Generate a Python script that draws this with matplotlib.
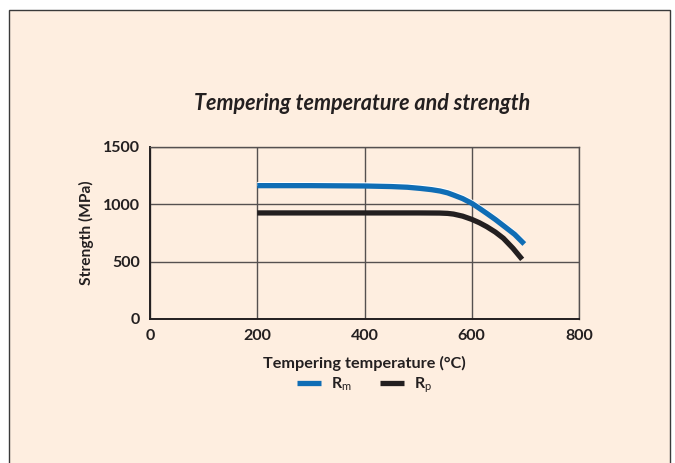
import matplotlib.pyplot as plt
from matplotlib.patches import Rectangle

# values
temp_rm = [200, 300, 400, 450, 480, 504, 525, 541, 555, 566, 583, 600, 614, 628, 644, 659, 680, 698]
rm = [1163, 1163, 1160, 1155, 1149, 1139, 1128, 1116, 1100, 1081, 1050, 1009, 966, 921, 868, 814, 738, 654]

temp_rp = [200, 300, 400, 500, 540, 555, 566, 583, 600, 614, 628, 644, 659, 677, 694]
rp = [925, 925, 925, 925, 924, 921, 915, 897, 869, 840, 805, 758, 704, 616, 520]

x_ticks = [0, 200, 400, 600, 800]
y_ticks = [0, 500, 1000, 1500]

BG = "#FEEEE0"
BLUE = "#0F6DB5"
BLACK = "#231F20"
FONT = "Lato"

plt.rcParams["mathtext.fontset"] = "custom"
plt.rcParams["mathtext.rm"] = FONT
plt.rcParams["mathtext.it"] = FONT + ":italic"
plt.rcParams["mathtext.bf"] = FONT + ":bold"

fig = plt.figure(figsize=(6.75, 4.63), dpi=100)
fig.patch.set_facecolor("white")

# beige panel with thin frame
W, H = 675, 463
fig.patches.append(Rectangle((9 / W, -0.05), (670 - 9) / W, (H - 10) / H + 0.05,
                             transform=fig.transFigure, facecolor=BG,
                             edgecolor="#3a3a3a", linewidth=1.0, zorder=-5))

ax = fig.add_axes([150 / W, 1 - 319 / H, (579 - 150) / W, (319 - 147) / H])
ax.set_zorder(2)
ax.set_facecolor(BG)
ax.set_xlim(0, 800)
ax.set_ylim(0, 1500)
ax.set_xticks(x_ticks)
ax.set_yticks(y_ticks)
ax.grid(True, color="#555050", linewidth=1.0)
ax.set_axisbelow(True)
for side in ["top", "right"]:
    ax.spines[side].set_color("#555050")
    ax.spines[side].set_linewidth(1.0)
for side in ["left", "bottom"]:
    ax.spines[side].set_color(BLACK)
    ax.spines[side].set_linewidth(1.4)
ax.tick_params(length=0, pad=7)
for lbl in ax.get_xticklabels() + ax.get_yticklabels():
    lbl.set_fontfamily(FONT)
    lbl.set_fontweight("bold")
    lbl.set_fontsize(11.5)
    lbl.set_color(BLACK)

# white highlight above the Rm curve
ax.plot(temp_rm, [v + 14 for v in rm], color="white", linewidth=3, solid_capstyle="butt")
ax.plot(temp_rm, rm, color=BLUE, linewidth=3.8, solid_capstyle="butt", label=r"R$_{\rm m}$")
ax.plot(temp_rp, rp, color=BLACK, linewidth=3.8, solid_capstyle="butt", label=r"R$_{\rm p}$")

ax.set_xlabel("Tempering temperature (°C)", fontfamily=FONT, fontweight="bold",
              fontsize=11.7, color=BLACK)
ax.set_ylabel("Strength (MPa)", fontfamily=FONT, fontweight="bold",
              fontsize=11.2, color=BLACK)
ax.xaxis.set_label_coords(0.5, -0.215)
ax.yaxis.set_label_coords(-0.13, 0.5)

fig.text(362 / W, 1 - 103 / H, "Tempering temperature and strength",
         fontfamily=FONT, fontstyle="italic", fontweight="bold", fontsize=15.5,
         color=BLACK, ha="center", va="center")

leg = ax.legend(loc="center", bbox_to_anchor=(0.5, -0.385), ncol=2, frameon=False,
                handlelength=1.5, columnspacing=1.8, handletextpad=0.6,
                prop={"family": FONT, "size": 11.5, "weight": "bold"})
for t in leg.get_texts():
    t.set_color(BLACK)

fig.savefig("out.png", dpi=100)
